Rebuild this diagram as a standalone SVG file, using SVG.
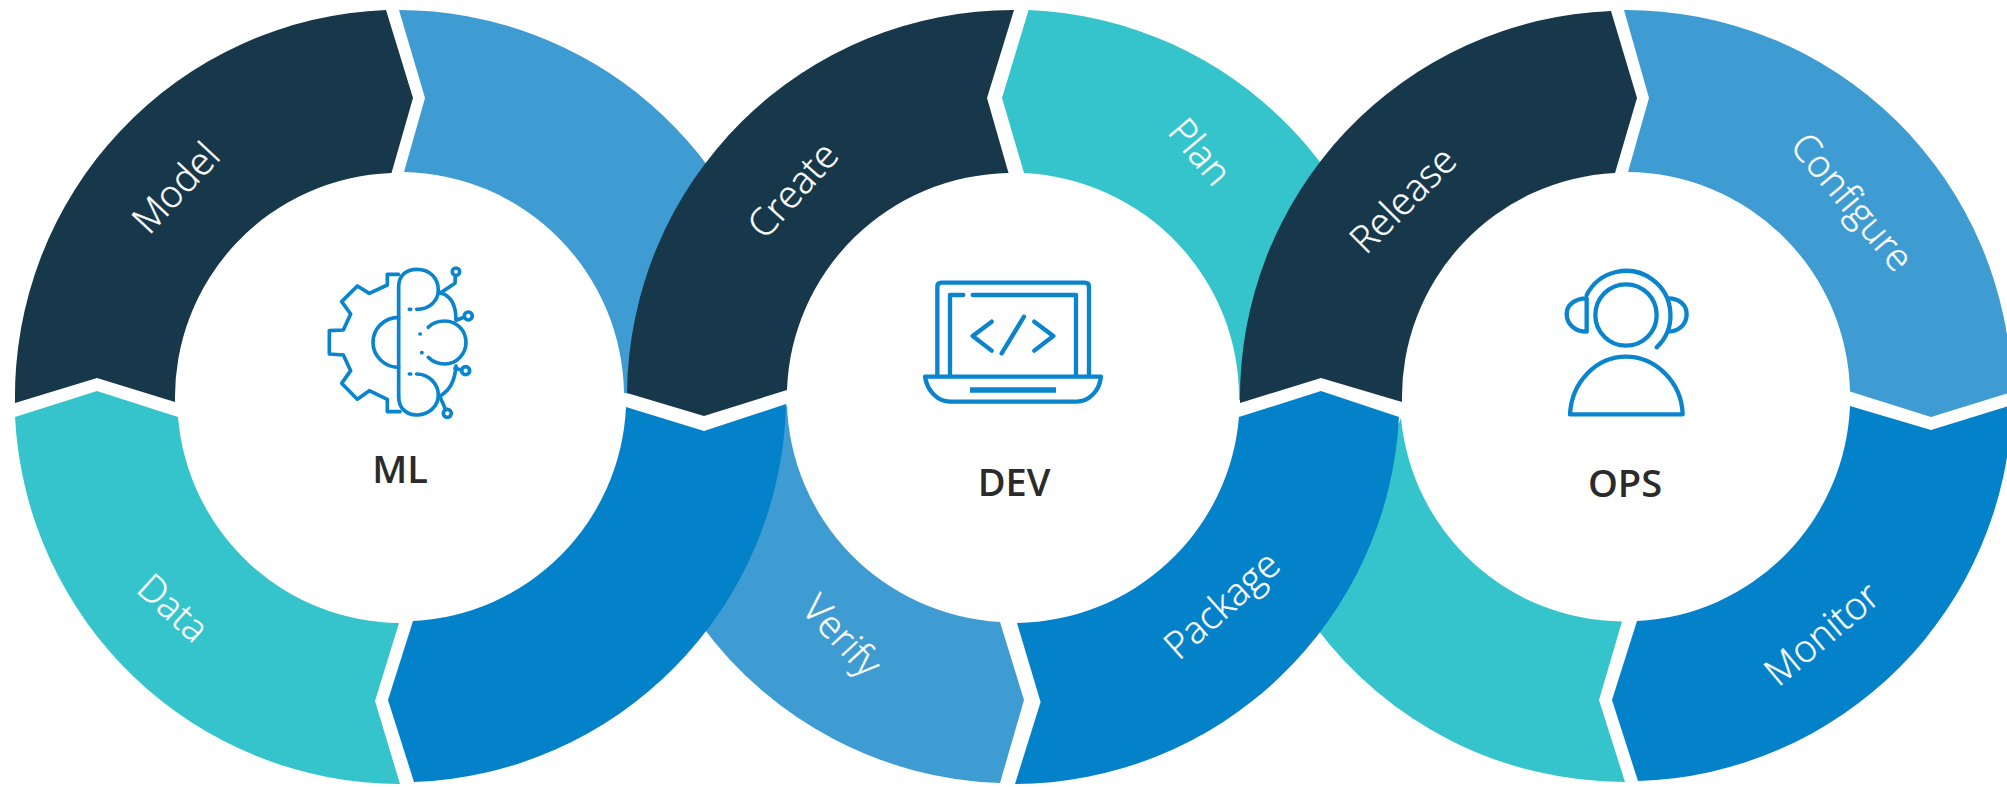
<svg xmlns="http://www.w3.org/2000/svg" width="2007" height="787" viewBox="0 0 2007 787">
<style>
.dark{fill:#17374a}.light{fill:#3f9cd2}.teal{fill:#36c4cc}.deep{fill:#0382ca}
.lbl{font-family:"Open Sans","Noto Sans","Liberation Sans",sans-serif;font-size:38px;font-weight:300;fill:#fff;stroke:#fff;stroke-width:.4;text-anchor:middle}
.hub{font-family:"Open Sans","Noto Sans","Liberation Sans",sans-serif;font-size:38px;font-weight:600;fill:#2b2b2b;text-anchor:middle}
.ic{fill:none;stroke:#0a84cc;stroke-linecap:round;stroke-linejoin:round}
</style>
<rect width="2007" height="787" fill="#fff"/>
<g id="seg-ml-deploy"><path class="light" d="M399,10 A386,387 0 0 1 780,340 L700,400 L624,393 A224,224.5 0 0 0 404,172 L425,98 Z"/></g>
<g id="seg-verify"><path class="light" d="M1000,622 L1024,700 L1000,783 A386,387 0 0 1 702,626 L787,404 A226,224.5 0 0 0 1000,622 Z"/><text class="lbl" transform="translate(842,636) rotate(47)" y="13">Verify</text></g>
<g id="seg-ml-train"><path class="deep" d="M413,621 L388,700 L414,782 A386,387 0 0 0 786,404 L704,431 L626,407 A224,224.5 0 0 1 413,621 Z"/></g>
<g id="seg-create"><path class="dark" d="M1014,10 L987,98 L1008.5,173 A226,224.5 0 0 0 787,390 L704,416 L627,393 A386,387 0 0 1 1014,10 Z"/><text class="lbl" transform="translate(793,190) rotate(-48)" y="13">Create</text></g>
<g id="seg-plan"><path class="teal" d="M1028.6,10 A386,387 0 0 1 1399,395 L1321,375 L1239,400 A226,224.5 0 0 0 1024,173 L1002,98 Z"/><text class="lbl" transform="translate(1200,152) rotate(50)" y="13">Plan</text></g>
<g id="seg-ops-teal"><path class="teal" d="M1622,621.5 L1599,700 L1625,782 A386,387 0 0 1 1315,626 L1401,418 A224,224.5 0 0 0 1622,621.5 Z"/></g>
<g id="seg-package"><path class="deep" d="M1017,623 L1040.6,702 L1015,784 A386,387 0 0 0 1399,417 L1321,391 L1239,417 A226,224.5 0 0 1 1017,623 Z"/><text class="lbl" transform="translate(1222,605) rotate(-42)" y="13">Package</text></g>
<g id="seg-release"><path class="dark" d="M1611,11 L1637,98 L1615,173 A224,224.5 0 0 0 1402,402 L1321,378 L1240,403 A386,387 0 0 1 1611,11 Z"/><text class="lbl" transform="translate(1403,200) rotate(-45)" y="13">Release</text></g>
<g id="seg-configure"><path class="light" d="M1624,10 A386,387 0 0 1 2012,392 L1931,417 L1850,391.5 A224,224.5 0 0 0 1628,172 L1649,98 Z"/><text class="lbl" transform="translate(1852,202) rotate(50)" y="13">Configure</text></g>
<g id="seg-monitor"><path class="deep" d="M1637,621 L1612,700 L1638,781 A386,387 0 0 0 2012,405 L1931,430 L1850,406 A224,224.5 0 0 1 1637,621 Z"/><text class="lbl" transform="translate(1822,634) rotate(-40)" y="13">Monitor</text></g>
<g id="seg-model"><path class="dark" d="M386,10 L413,98 L391.5,173 A224,224.5 0 0 0 175,402 L97,378 L15,403 A386,387 0 0 1 386,10 Z"/><text class="lbl" transform="translate(176,188) rotate(-47)" y="13">Model</text></g>
<g id="seg-data"><path class="teal" d="M15,417 L97,391 L178,417 A224,224.5 0 0 0 399,623 L375,701 L400,784 A386,387 0 0 1 15,417 Z"/><text class="lbl" transform="translate(173,608) rotate(42)" y="13">Data</text></g>
<g id="hub-ml">
<g class="ic" stroke-width="11" transform="translate(300,240) scale(0.3333)">
<path d="M296,103 L262,103 L262,135 L208,160 L172,138 L125,185 L152,222 L130,270 L88,272 L88,342 L130,345 L152,392 L125,430 L172,478 L208,452 L262,478 L262,515 L300,515"/>
<path d="M296,470 V140 C296,105 320,88 350,88 C390,88 415,115 415,150 C415,185 385,208 350,208"/>
<path d="M296,470 C296,505 320,525 350,525 C385,525 415,500 415,465 C415,430 385,402 350,402"/>
<path d="M296,232 A77,75 0 0 0 296,382"/>
<path d="M385,262 C400,245 420,243 435,243 C470,243 498,272 498,307 C498,342 470,372 435,372 C420,372 400,368 385,352"/>
<path d="M425,160 C455,170 468,200 468,240 M468,378 C465,420 450,450 425,465"/>
<path d="M420,160 L465,130 L466,108 M470,240 L492,232 M465,385 L485,390 M420,470 L435,505"/>
<circle cx="468" cy="95" r="11"/><circle cx="505" cy="228" r="12"/><circle cx="497" cy="392" r="12"/><circle cx="442" cy="520" r="12"/>
<path d="M328,208 H332 M328,402 H332 M360,282 H361 M365,338 H366"/>
</g>
<text class="hub" x="400" y="483">ML</text>
</g>
<g id="hub-dev">
<g class="ic" stroke-width="13" transform="translate(900,260) scale(0.3333)">
<path d="M112,345 V80 Q112,68 124,68 H555 Q567,68 567,80 V345"/>
<path d="M150,345 V105 H190 M218,105 H528 V345"/>
<path d="M75,350 H603 C598,395 565,425 530,425 H150 C115,425 82,395 75,350 Z"/>
<path d="M210,390 H468" stroke-width="17" stroke-linecap="butt"/>
<path d="M275,185 L218,228 L275,272 M403,185 L460,228 L403,272 M372,170 L305,280"/>
</g>
<text class="hub" x="1014" y="496">DEV</text>
</g>
<g id="hub-ops">
<g class="ic" stroke-width="13" transform="translate(1530,250) scale(0.3333)">
<circle cx="288" cy="195" r="92"/>
<path d="M170,135 A133,133 0 1 1 380,292"/>
<path d="M170,145 C135,145 110,165 110,192 C110,222 135,245 170,245 Z"/>
<path d="M415,145 C448,145 470,165 470,192 C470,222 448,245 415,245"/>
<path d="M120,493 H458 C455,395 375,320 288,320 C200,320 125,395 120,493 Z"/>
</g>
<text class="hub" x="1625" y="497">OPS</text>
</g>
</svg>
